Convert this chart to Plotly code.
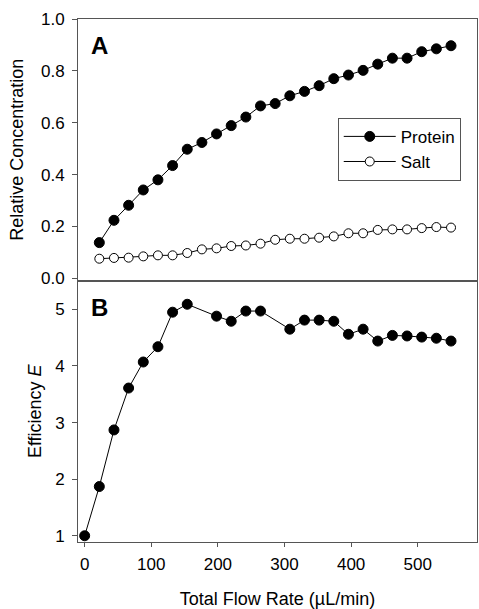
import plotly.graph_objects as go
from plotly.subplots import make_subplots

# ---- data ----
flow_conc = [22, 44, 66, 88, 110, 132, 154, 176, 198, 220, 242, 264, 286,
             308, 330, 352, 374, 396, 418, 440, 462, 484, 506, 528, 550]
protein = [0.138, 0.224, 0.282, 0.341, 0.380, 0.435, 0.498, 0.524, 0.557,
           0.589, 0.622, 0.665, 0.674, 0.704, 0.721, 0.743, 0.770, 0.784,
           0.802, 0.826, 0.849, 0.849, 0.874, 0.885, 0.897]
salt = [0.076, 0.079, 0.080, 0.085, 0.089, 0.089, 0.098, 0.112, 0.116,
        0.125, 0.127, 0.134, 0.149, 0.153, 0.153, 0.157, 0.162, 0.174,
        0.174, 0.187, 0.189, 0.189, 0.194, 0.198, 0.196]

flow_eff = [0, 22, 44, 66, 88, 110, 132, 154, 198, 220, 242, 264, 308,
            330, 352, 374, 396, 418, 440, 462, 484, 506, 528, 550]
efficiency = [1.00, 1.87, 2.87, 3.61, 4.07, 4.34, 4.95, 5.09, 4.88, 4.79,
              4.97, 4.97, 4.65, 4.81, 4.81, 4.79, 4.56, 4.65, 4.44, 4.54,
              4.53, 4.51, 4.49, 4.44]

x_ticks = [0, 100, 200, 300, 400, 500]
conc_ticks = [0.0, 0.2, 0.4, 0.6, 0.8, 1.0]
eff_ticks = [1, 2, 3, 4, 5]

FONT = "Arial, Liberation Sans, sans-serif"
AX = "#555555"

fig = make_subplots(rows=2, cols=1, shared_xaxes=True, vertical_spacing=0)

fig.add_trace(go.Scatter(x=flow_conc, y=protein, name="Protein", mode="lines+markers",
                         line=dict(color="black", width=1),
                         marker=dict(symbol="circle", size=10, color="black",
                                     line=dict(color="black", width=1))),
              row=1, col=1)
fig.add_trace(go.Scatter(x=flow_conc, y=salt, name="Salt", mode="lines+markers",
                         line=dict(color="black", width=1),
                         marker=dict(symbol="circle", size=9, color="white",
                                     line=dict(color="black", width=1))),
              row=1, col=1)
fig.add_trace(go.Scatter(x=flow_eff, y=efficiency, name="Efficiency", mode="lines+markers",
                         showlegend=False,
                         line=dict(color="black", width=1),
                         marker=dict(symbol="circle", size=10, color="black",
                                     line=dict(color="black", width=1))),
              row=2, col=1)

common_x = dict(range=[-10, 589], showgrid=False, zeroline=False, showline=True,
                linecolor=AX, linewidth=1, mirror=True, automargin=False)
fig.update_xaxes(**common_x)
fig.update_xaxes(showticklabels=False, ticks="", row=1, col=1)
fig.update_xaxes(tickvals=x_ticks, ticks="outside", ticklen=4, tickcolor=AX,
                 tickfont=dict(size=17, color="black"), ticklabelstandoff=3,
                 title=dict(text="Total Flow Rate (µL/min)", font=dict(size=18, color="black"),
                            standoff=22),
                 row=2, col=1)

fig.update_yaxes(showgrid=False, zeroline=False, showline=True, linecolor=AX,
                 linewidth=1, mirror=True, ticks="outside", ticklen=5, tickcolor=AX,
                 tickfont=dict(size=17, color="black"), ticklabelstandoff=4,
                 automargin=False)
fig.update_yaxes(range=[-0.008, 1.0], tickvals=conc_ticks, tickformat=".1f",
                 domain=[0.5, 1.0],
                 title=dict(text="Relative Concentration", font=dict(size=18, color="black"),
                            standoff=12),
                 row=1, col=1)
fig.update_yaxes(range=[0.89, 5.51], tickvals=eff_ticks, domain=[0.0, 0.5],
                 title=dict(text="Efficiency <i>E</i>", font=dict(size=18, color="black"),
                            standoff=8),
                 row=2, col=1)

fig.add_annotation(text="<b>A</b>", xref="paper", yref="paper", x=0.028, y=0.950,
                   xanchor="left", yanchor="middle", showarrow=False,
                   font=dict(size=24, color="black", family=FONT))
fig.add_annotation(text="<b>B</b>", xref="paper", yref="paper", x=0.028, y=0.449,
                   xanchor="left", yanchor="middle", showarrow=False,
                   font=dict(size=24, color="black", family=FONT))

fig.update_layout(
    width=479, height=609,
    margin=dict(l=78, r=2, t=19, b=67),
    paper_bgcolor="white", plot_bgcolor="white",
    font=dict(family=FONT, size=17, color="black"),
    legend=dict(x=0.651, y=0.811, xanchor="left", yanchor="top",
                bordercolor=AX, borderwidth=1, bgcolor="white",
                font=dict(size=17, color="black"), itemwidth=52,
                entrywidth=68, entrywidthmode="pixels",
                tracegroupgap=0),
    showlegend=True,
)

fig.write_html("out.html", config={"displayModeBar": False},
               post_script="document.body.style.margin='0';document.body.style.overflow='hidden';")
